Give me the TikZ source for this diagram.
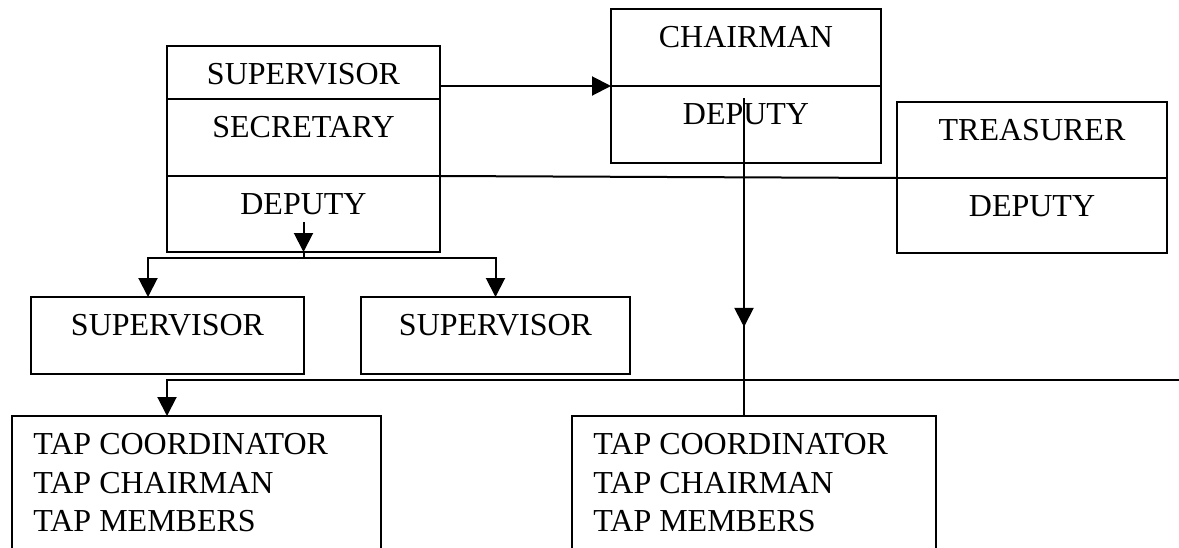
\documentclass[tikz,border=0pt]{standalone}
\usepackage{fontspec}
\setmainfont{Liberation Serif}
\usetikzlibrary{arrows.meta,positioning,decorations.markings}

\begin{document}
\begin{tikzpicture}[x=0.5pt,y=-0.5pt,>={Triangle[length=9.5pt,width=9.5pt]},
  role/.style={draw,line width=1pt,inner sep=0pt,outer sep=0pt,anchor=north west,align=center,
    text height=19pt,font=\fontsize{16}{19.25}\selectfont},
  tapbox/.style={draw,line width=1pt,inner sep=0pt,outer sep=0pt,anchor=north west,minimum height=80pt},
  taptext/.style={anchor=north west,inner sep=0pt,align=left,font=\fontsize{16}{19.25}\selectfont},
  link/.style={line width=1pt}]
\clip (0,0) rectangle (1179,547);
% executive block
\node[role,text width=136.5pt,text depth=7.5pt] (supA) at (167,46) {SUPERVISOR};
\node[role,text width=136.5pt,text depth=19.5pt,below=0pt of supA] (secA) {SECRETARY};
\node[role,text width=136.5pt,text depth=19pt,below=0pt of secA] (depA) {DEPUTY};
\node[role,text width=135pt,text depth=19.5pt] (chair) at (611,9) {CHAIRMAN};
\node[role,text width=135pt,text depth=19.5pt,below=0pt of chair] (chdep) {DEPUTY};
\node[role,text width=135pt,text depth=19pt] (treas) at (897,102) {TREASURER};
\node[role,text width=135pt,text depth=18.5pt,below=0pt of treas] (trdep) {DEPUTY};
% supervisors
\node[role,text width=136.5pt,text depth=19.5pt] (supv1) at (31,297) {SUPERVISOR};
\node[role,text width=134.5pt,text depth=19.5pt] (supv2) at (361,297) {SUPERVISOR};
% TAP boxes
\node[tapbox,minimum width=184.5pt] (tap1) at (12,416) {};
\node[tapbox,minimum width=182pt] (tap2) at (572,416) {};
\node[taptext] (tap1txt) at ([xshift=10.5pt,yshift=-8.5pt]tap1.north west)
  {TAP COORDINATOR\\TAP CHAIRMAN\\TAP MEMBERS};
\node[taptext] (tap2txt) at ([xshift=10.5pt,yshift=-8.5pt]tap2.north west)
  {TAP COORDINATOR\\TAP CHAIRMAN\\TAP MEMBERS};
% connectors
\coordinate (fork) at ([yshift=-3pt]depA.south);
\coordinate (chtop) at ([xshift=-1pt,yshift=-6pt]chdep.north);
\coordinate (railend) at (1200,380);
\draw[link,->] (supA.east |- chair.south west) -- (chair.south west);
\draw[link] (depA.north east) -- (trdep.north west);
\draw[link,->] ([yshift=15pt]depA.south) -- (depA.south);
\draw[link] (depA.south) -- (fork);
\draw[link,->] (fork) -| ([xshift=-9.75pt]supv1.north);
\draw[link,->] (fork) -| (supv2.north);
\draw[link,postaction={decorate},decoration={markings,
  mark=at position 0.72 with {\arrow{Triangle[length=9.5pt,width=9.5pt]}}}]
  (chtop) -- (chtop |- tap2.north);
\draw[link,->] (railend) -| ([xshift=-14.75pt]tap1.north);
\end{tikzpicture}
\end{document}
